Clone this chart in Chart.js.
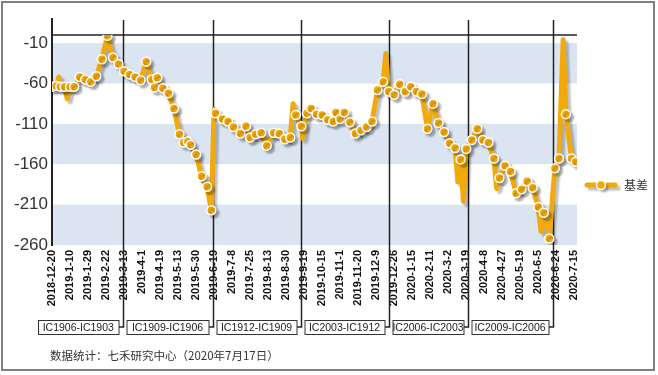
<!DOCTYPE html>
<html>
<head>
<meta charset="utf-8">
<script src="https://cdn.jsdelivr.net/npm/chart.js@4.4.1/dist/chart.umd.min.js"></script>
<style>
  html, body { margin: 0; padding: 0; background: #fff; }
  #wrap { width: 658px; height: 375px; }
</style>
</head>
<body>
<div id="wrap"><canvas id="basisChart" width="658" height="375"></canvas></div>
<script>
// x labels, one every 13 trading days
const tickDates = ['2018-12-20', '2019-1-10', '2019-1-29', '2019-2-22', '2019-3-13', '2019-4-1',
  '2019-4-19', '2019-5-13', '2019-5-30', '2019-6-19', '2019-7-8', '2019-7-25', '2019-8-13',
  '2019-8-30', '2019-9-19', '2019-10-15', '2019-11-1', '2019-11-20', '2019-12-9', '2019-12-26',
  '2020-1-15', '2020-2-11', '2020-3-2', '2020-3-19', '2020-4-8', '2020-4-27', '2020-5-19',
  '2020-6-5', '2020-6-24', '2020-7-15'];
const labelStep = 13;
const lastDay = 379;

const yTicks = [-260, -210, -160, -110, -60, -10];

// basis (trading day number, value) - points with markers
const basisDays = [0, 3, 6, 9, 13, 16, 20, 24, 28, 32, 36, 40, 44, 48,
  52, 56, 60, 64, 68, 72, 74, 76, 80, 84, 88, 92, 95, 98, 100, 104, 108, 112, 115,
  118, 123, 127, 131, 136, 140, 143, 147, 151, 155, 160, 164, 168, 172, 176, 180,
  184, 187, 191, 195, 199, 203, 205, 208, 211, 215, 219, 223, 227, 231, 235, 239,
  243, 247, 251, 255, 259, 263, 267, 271, 275, 279, 283, 287, 291, 295, 299,
  303, 307, 311, 315, 319, 323, 327, 331, 335, 339, 343, 347, 351, 355, 359,
  363, 366, 371, 375, 378];
const basisValues = [-64, -63, -64, -64, -64, -64, -52, -55, -58, -51, -30, -1, -28, -36,
  -45, -49, -52, -56, -33, -55, -65, -53, -66, -72, -91, -123, -133, -132, -136, -148, -175, -188, -217,
  -97, -104, -107, -114, -122, -113, -127, -123, -121, -137, -121, -122, -129, -127, -99, -113,
  -97, -91, -98, -99, -105, -107, -96, -104, -96, -108, -122, -118, -114, -107, -68, -58,
  -70, -74, -61, -70, -64, -70, -73, -116, -85, -109, -120, -134, -140, -154, -141,
  -130, -116, -130, -133, -153, -177, -162, -169, -196, -191, -181, -189, -213, -220, -252,
  -165, -153, -98, -153, -157];

// single-day spikes in the line (no marker)
const spikeDays = [5, 11, 117, 174, 181, 241, 293, 297, 321, 353, 369];
const spikeValues = [-52, -79, -92, -85, -128, -23, -182, -206, -190, -243, -6];

// contract rolls
const contracts = ['IC1906-IC1903', 'IC1909-IC1906', 'IC1912-IC1909', 'IC2003-IC1912', 'IC2006-IC2003', 'IC2009-IC2006'];
const rollDays = [51, 116, 180, 243, 300, 362];

const orange = '#F2A90C';
const band = '#DBE5F1';
const font = "'Liberation Sans', Arial, sans-serif";
const cjk = "'Noto Sans CJK SC', sans-serif";

const points = basisDays.map((d, i) => ({ x: d, y: basisValues[i], marker: true }))
  .concat(spikeDays.map((d, i) => ({ x: d, y: spikeValues[i], marker: false })))
  .sort((a, b) => a.x - b.x);

const shadow = {
  id: 'shadow',
  beforeDatasetDraw(chart) {
    const ctx = chart.ctx;
    ctx.save();
    ctx.shadowColor = 'rgba(0,0,0,0.25)';
    ctx.shadowOffsetX = 3;
    ctx.shadowOffsetY = 3;
    ctx.shadowBlur = 2;
  },
  afterDatasetDraw(chart) {
    chart.ctx.restore();
  }
};

const decor = {
  id: 'decor',
  beforeDatasetsDraw(chart) {
    const ctx = chart.ctx;
    const x = chart.scales.x, y = chart.scales.y;
    const a = chart.chartArea;
    ctx.save();
    // bands
    ctx.fillStyle = band;
    for (let i = yTicks.length - 1; i > 0; i -= 2) {
      const t = y.getPixelForValue(yTicks[i]);
      const b = y.getPixelForValue(yTicks[i - 1]);
      ctx.fillRect(a.left, t, a.right - a.left, b - t);
    }
    // top line
    ctx.strokeStyle = '#222';
    ctx.lineWidth = 1.5;
    ctx.beginPath();
    ctx.moveTo(a.left, y.getPixelForValue(0));
    ctx.lineTo(a.right, y.getPixelForValue(0));
    ctx.stroke();
    // y axis line
    ctx.lineWidth = 2;
    ctx.beginPath();
    ctx.moveTo(a.left, 18);
    ctx.lineTo(a.left, a.bottom + 1);
    ctx.stroke();
    // roll separators and contract boxes
    const boxTop = 320, boxH = 14;
    ctx.font = '10.5px ' + font;
    ctx.textAlign = 'center';
    ctx.textBaseline = 'middle';
    let prev = 38;
    rollDays.forEach((d, i) => {
      const sx = Math.round(x.getPixelForValue(d)) + 0.5;
      ctx.strokeStyle = '#222';
      ctx.lineWidth = 1.5;
      ctx.beginPath();
      ctx.moveTo(sx, 20);
      ctx.lineTo(sx, boxTop + boxH / 2);
      ctx.lineTo(sx - 5, boxTop + boxH / 2);
      ctx.stroke();
      const right = sx - 5;
      ctx.lineWidth = 1;
      ctx.strokeStyle = '#333';
      ctx.fillStyle = '#fff';
      ctx.fillRect(prev + 0.5, boxTop + 0.5, right - prev, boxH);
      ctx.strokeRect(prev + 0.5, boxTop + 0.5, right - prev, boxH);
      ctx.fillStyle = '#222';
      ctx.fillText(contracts[i], (prev + right) / 2, boxTop + boxH / 2 + 1);
      prev = sx + 3;
    });
    ctx.restore();
  },
  afterDraw(chart) {
    const ctx = chart.ctx;
    ctx.save();
    // legend
    ctx.shadowColor = 'rgba(0,0,0,0.25)';
    ctx.shadowOffsetX = 3;
    ctx.shadowOffsetY = 3;
    ctx.shadowBlur = 2;
    ctx.strokeStyle = orange;
    ctx.lineWidth = 5;
    ctx.lineCap = 'round';
    ctx.beginPath();
    ctx.moveTo(587, 185);
    ctx.lineTo(615, 185);
    ctx.stroke();
    ctx.beginPath();
    ctx.arc(601, 185, 4.5, 0, Math.PI * 2);
    ctx.fillStyle = orange;
    ctx.fill();
    ctx.shadowColor = 'transparent';
    ctx.lineWidth = 1.5;
    ctx.strokeStyle = '#fff';
    ctx.stroke();
    ctx.fillStyle = '#333';
    ctx.font = '12px ' + cjk;
    ctx.textAlign = 'left';
    ctx.textBaseline = 'middle';
    ctx.fillText('基差', 624, 185);
    // source note
    ctx.font = '11.5px ' + cjk;
    ctx.fillText('数据统计：七禾研究中心（2020年7月17日）', 50, 356);
    // frame
    ctx.strokeStyle = '#808080';
    ctx.lineWidth = 2;
    ctx.strokeRect(2, 2, 652, 368);
    ctx.restore();
  }
};

new Chart(document.getElementById('basisChart').getContext('2d'), {
  type: 'line',
  data: {
    datasets: [{
      label: '基差',
      data: points,
      borderColor: orange,
      backgroundColor: orange,
      borderWidth: 5,
      borderJoinStyle: 'round',
      borderCapStyle: 'round',
      tension: 0,
      pointRadius: ctx => (ctx.raw && ctx.raw.marker ? 4.5 : 0),
      pointBorderColor: '#fff',
      pointBorderWidth: 1.5,
      pointBackgroundColor: orange
    }]
  },
  options: {
    responsive: false,
    devicePixelRatio: 1,
    animation: false,
    layout: { padding: { left: 0, top: 35, right: 81, bottom: 0 } },
    plugins: {
      legend: { display: false },
      tooltip: { enabled: false }
    },
    scales: {
      x: {
        type: 'linear',
        min: 0,
        max: lastDay,
        afterBuildTicks: scale => { scale.ticks = tickDates.map((d, i) => ({ value: i * labelStep })); },
        afterFit: scale => { scale.height = 130; },
        grid: { display: false, drawTicks: false },
        border: { display: false },
        ticks: {
          autoSkip: false,
          minRotation: 90,
          maxRotation: 90,
          padding: 5,
          color: '#111',
          font: { family: font, size: 11, weight: 'bold' },
          callback: (v, i) => tickDates[i]
        }
      },
      y: {
        min: -260,
        max: 0,
        afterBuildTicks: scale => { scale.ticks = yTicks.map(v => ({ value: v })); },
        afterFit: scale => { scale.width = 52; },
        grid: { display: false, drawTicks: false },
        border: { display: false },
        ticks: {
          padding: 4,
          color: '#333',
          font: { family: font, size: 17 }
        }
      }
    }
  },
  plugins: [decor, shadow]
});
</script>
</body>
</html>
